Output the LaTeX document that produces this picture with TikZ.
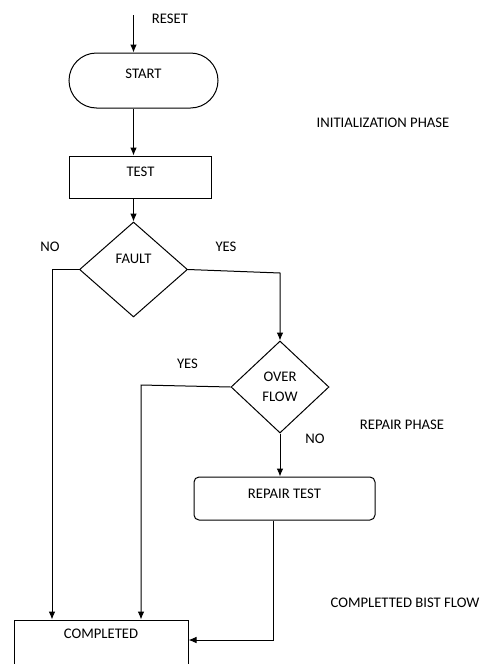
\documentclass[tikz,border=0pt]{standalone}
\usepackage{fontspec}
\setmainfont{Carlito}
\usetikzlibrary{arrows.meta,shapes.geometric,shapes.misc}

\tikzset{every picture/.style={line width=0.75pt}}
\tikzset{
  txt/.style={font=\fontsize{11}{15}\selectfont, inner sep=0pt},
  boxnode/.style={draw, txt, rectangle, text height=7pt},
  termnode/.style={draw, txt, rounded rectangle, text height=7pt},
  decision/.style={draw, txt, diamond, align=center},
  flow/.style={-{Latex[length=6pt,width=5pt]}},
}

\begin{document}
\begin{tikzpicture}[x=0.75pt,y=0.75pt,yscale=-1,xscale=1]
	\useasboundingbox (0,0) rectangle (492,664);

	%Shape: Terminal [start]
	\node[termnode, minimum width=111.75pt, minimum height=41.25pt, text depth=9.75pt] (start) at (143.5,80.5) {START\hspace{17pt}};
	%Shape: Rectangle [test]
	\node[boxnode, minimum width=106.5pt, minimum height=31.5pt, text depth=7.5pt] (test) at (140.5,177) {TEST\hspace{6pt}};
	%Shape: Diamond [fault]
	\node[decision, minimum width=81pt, minimum height=71.25pt, text height=7pt, text depth=16.5pt] (fault) at (133.5,269.5) {FAULT};
	%Shape: Diamond [overflow]
	\node[decision, minimum width=73.5pt, minimum height=69pt] (overflow) at (280,387) {OVER\\FLOW};
	%Shape: Rectangle [repair]
	\node[boxnode, rounded corners=3.75pt, minimum width=135.75pt, minimum height=32.25pt, text depth=6.75pt] (repair) at (284.5,498.5) {REPAIR TEST};
	%Shape: Rectangle [done]
	\node[boxnode, minimum width=130.5pt, minimum height=39pt, text depth=18pt] (done) at (101,646) {COMPLETED};

	%Straight Lines
	\coordinate (resetin) at (133.5,15);
	\draw[flow] (resetin) -- (resetin |- start.north);
	\draw[flow] (resetin |- start.south) -- (resetin |- test.north);
	\draw[flow] (resetin |- test.south) -- (fault.north);
	%Straight Lines [fault no]
	\coordinate (nobend) at (52,269.5);
	\draw[flow] (fault.west) -- (nobend) -- (nobend |- done.north);
	%Straight Lines [fault yes]
	\coordinate (yesbend) at (280,273);
	\draw[flow] (fault.east) -- (yesbend) -- (overflow.north);
	%Straight Lines [overflow yes]
	\coordinate (ovfbend) at (141,385);
	\draw[flow] (overflow.west) -- (ovfbend) -- (ovfbend |- done.north);
	%Straight Lines [overflow no]
	\draw[flow] (overflow.south) -- (overflow.south |- repair.north);
	%Straight Lines [repair back]
	\coordinate (rtbend) at (273,640);
	\draw[flow] (rtbend |- repair.south) -- (rtbend) -- (rtbend -| done.east);

	% Text Node
	\node[txt] (resetlbl) at (170,19) {RESET};
	% Text Node
	\node[txt] (initlbl) at (383,123) {INITIALIZATION PHASE};
	% Text Node
	\node[txt] (faultno) at (50,247) {NO};
	% Text Node
	\node[txt] (faultyes) at (226,247) {YES};
	% Text Node
	\node[txt] (ovfyes) at (187.5,364) {YES};
	% Text Node
	\node[txt] (ovfno) at (315,439) {NO};
	% Text Node
	\node[txt] (repairlbl) at (402,425) {REPAIR PHASE};
	% Text Node
	\node[txt] (donelbl) at (405,603) {COMPLETTED BIST FLOW};

\end{tikzpicture}
\end{document}
